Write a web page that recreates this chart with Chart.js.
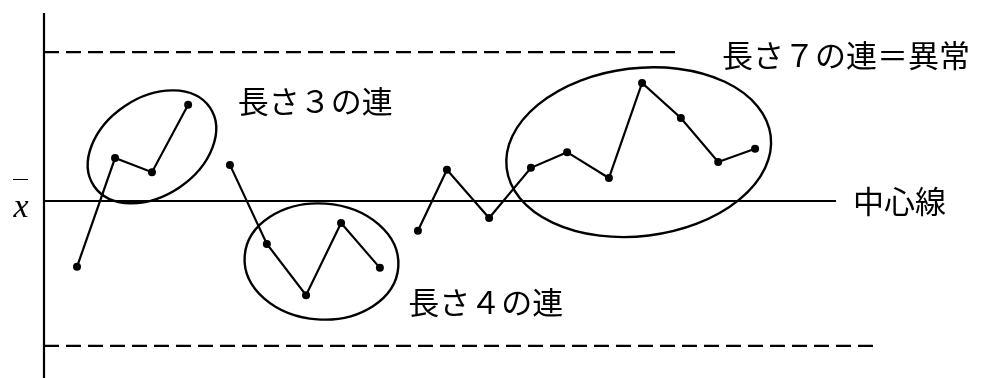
<!DOCTYPE html>
<html>
<head>
<meta charset="utf-8">
<script src="https://cdn.jsdelivr.net/npm/chart.js@4.4.1/dist/chart.umd.min.js"></script>
<style>
  body { margin: 0; background: #fff; }
  #wrap { width: 983px; height: 378px; }
</style>
</head>
<body>
<div id="wrap"><canvas id="runChart" width="983" height="378"></canvas></div>
<script>
// sample positions / values (centre line = 0, one unit = one sigma)
var run1X = [1.00, 2.01, 2.99, 3.95];
var run1Y = [-1.35, 0.88, 0.59, 1.97];
var run2X = [5.06, 6.04, 7.08, 8.01, 9.04];
var run2Y = [0.74, -0.88, -1.93, -0.45, -1.37];
var run3X = [10.05, 10.82, 11.94, 13.05, 14.01, 15.12, 16.00, 17.03, 18.02, 19.00];
var run3Y = [-0.61, 0.64, -0.35, 0.68, 1.00, 0.47, 2.42, 1.70, 0.80, 1.07];

// upper limit, centre line, lower limit and where each one stops
var controlLevels = [3.05, 0, -2.97];
var controlEnds = [16.9, 21.15, 22.13];

var labelTexts = ['長さ３の連', '長さ４の連', '長さ７の連＝異常', '中心線'];
var labelX = [5.27, 9.79, 18.12, 21.6];
var labelY = [2.05, -2.07, 2.99, 0];

var xMin = 0.124, xMax = 25.05;
var yMin = -3.627, yMax = 3.852;

function pts(xs, ys) {
    return xs.map(function(x, i) { return { x: x, y: ys[i] }; });
}

function runSet(xs, ys) {
    return {
        data: pts(xs, ys),
        showLine: true,
        borderColor: '#000',
        borderWidth: 2.2,
        backgroundColor: '#000',
        pointRadius: 4,
        pointBorderWidth: 0,
        tension: 0
    };
}

function levelSet(i, dashed) {
    return {
        data: [{ x: xMin, y: controlLevels[i] }, { x: controlEnds[i], y: controlLevels[i] }],
        showLine: true,
        borderColor: '#000',
        borderWidth: dashed ? 2.2 : 1.8,
        borderDash: dashed ? [15, 7] : [],
        pointRadius: 0
    };
}

// circled runs, drawn around the points
var rings = [
    { cx: 2.99, cy: 1.11, a: 70, b: 49, rot: -34 },
    { cx: 7.49, cy: -1.24, a: 77, b: 58, rot: 4 },
    { cx: 15.91, cy: 1.0, a: 133, b: 84, rot: -7 }
];

var notes = {
    id: 'notes',
    afterDatasetsDraw: function(chart) {
        var ctx = chart.ctx, xs = chart.scales.x, ys = chart.scales.y, area = chart.chartArea;
        ctx.save();
        ctx.strokeStyle = '#000';
        ctx.fillStyle = '#000';

        // vertical axis
        ctx.lineWidth = 2.2;
        ctx.beginPath();
        ctx.moveTo(area.left, area.top);
        ctx.lineTo(area.left, area.bottom);
        ctx.stroke();

        ctx.lineWidth = 2.4;
        rings.forEach(function(r) {
            ctx.beginPath();
            ctx.ellipse(xs.getPixelForValue(r.cx), ys.getPixelForValue(r.cy), r.a, r.b,
                r.rot * Math.PI / 180, 0, Math.PI * 2);
            ctx.stroke();
        });

        ctx.font = '31px "Noto Sans CJK JP"';
        ctx.textBaseline = 'middle';
        ctx.textAlign = 'left';
        labelTexts.forEach(function(t, i) {
            ctx.fillText(t, xs.getPixelForValue(labelX[i]), ys.getPixelForValue(labelY[i]));
        });

        // x-bar at the centre line
        var cy = ys.getPixelForValue(0);
        ctx.font = 'italic 34px "Liberation Serif"';
        ctx.textAlign = 'center';
        ctx.fillText('x', area.left - 23, cy + 7);
        ctx.lineWidth = 1;
        ctx.beginPath();
        ctx.moveTo(area.left - 31, cy - 21.5);
        ctx.lineTo(area.left - 16, cy - 21.5);
        ctx.stroke();
        ctx.restore();
    }
};

var runChart = new Chart(document.getElementById('runChart'), {
    type: 'scatter',
    data: {
        datasets: [
            levelSet(0, true),
            levelSet(1, false),
            levelSet(2, true),
            runSet(run1X, run1Y),
            runSet(run2X, run2Y),
            runSet(run3X, run3Y)
        ]
    },
    options: {
        responsive: false,
        animation: false,
        layout: { autoPadding: false, padding: { left: 44, top: 13, right: 0, bottom: 0 } },
        scales: {
            x: { type: 'linear', min: xMin, max: xMax, display: false },
            y: { type: 'linear', min: yMin, max: yMax, display: false }
        },
        plugins: {
            legend: { display: false },
            tooltip: { enabled: false }
        }
    },
    plugins: [notes]
});
</script>
</body>
</html>
